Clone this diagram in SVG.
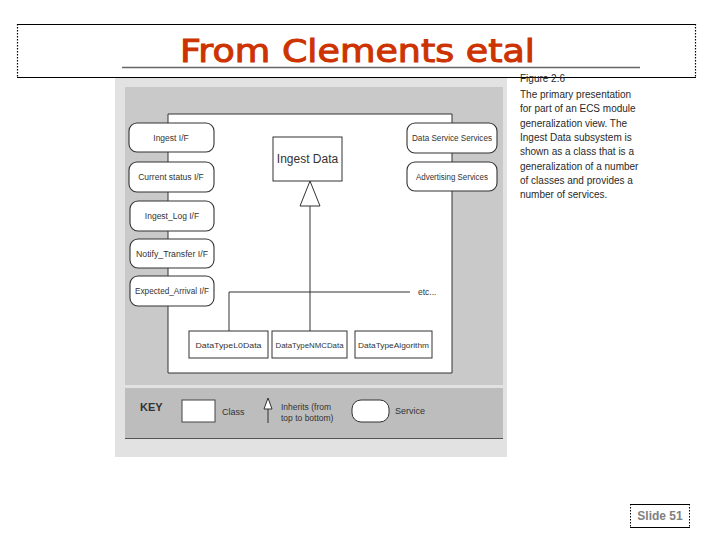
<svg xmlns="http://www.w3.org/2000/svg" width="720" height="540" viewBox="0 0 720 540">
<style>
.t{font-family:"Liberation Sans",Arial,sans-serif;fill:#333}
.svc{fill:#fff;stroke:#333;stroke-width:1.1}
.cls{fill:#fff;stroke:#333;stroke-width:1}
.ln{stroke:#333;stroke-width:1;fill:none}
.lab{font-size:8.5px;text-anchor:middle}
.dt{font-size:8px;text-anchor:middle}
.cap{font-size:10px;fill:#2a2a2a}
</style>
<rect width="720" height="540" fill="#fff"/>
<!-- scanned figure background -->
<rect x="115" y="78" width="392" height="379" fill="#e2e2e2"/>
<rect x="125" y="87" width="378" height="298" fill="#c9c9c9"/>
<rect x="125" y="388" width="378" height="50" fill="#bdbdbd"/>
<line x1="125" y1="438.5" x2="503" y2="438.5" stroke="#555" stroke-width="1.2"/>
<line x1="122" y1="67.5" x2="640" y2="67.5" stroke="#666" stroke-width="1.5"/>
<!-- inner white area -->
<path d="M168 373 L168 114 L452 114 L452 373 Z" fill="#fff" stroke="#333" stroke-width="1"/>
<!-- title -->
<g id="title">
<path d="M17 24.5 H696 M17 77.5 H696" stroke="#000" stroke-width="1.2"/>
<path d="M17.5 24 V78 M695.5 24 V78" stroke="#000" stroke-width="1.2" stroke-dasharray="1.5,1.5"/>
<text x="180" y="62" font-family="'DejaVu Sans',sans-serif" font-size="32" fill="#cc3300" stroke="#cc3300" stroke-width="1" textLength="355" lengthAdjust="spacingAndGlyphs">From Clements etal</text>
</g>
<!-- connectors -->
<g id="connectors">
<line class="ln" x1="310" y1="206" x2="310" y2="331"/>
<line class="ln" x1="229" y1="292" x2="410" y2="292"/>
<line class="ln" x1="229" y1="292" x2="229" y2="331"/>
<polygon points="310,181 300,206 320,206" fill="#fff" stroke="#333" stroke-width="1"/>
<text class="t" x="418" y="295" font-size="8.5">etc...</text>
</g>
<!-- services left -->
<g id="ingest-if"><rect class="svc" x="129" y="123" width="85" height="29" rx="8"/><text class="t lab" x="171" y="141">Ingest I/F</text></g>
<g id="current-status-if"><rect class="svc" x="129" y="162" width="85" height="30" rx="8"/><text class="t lab" x="171" y="180">Current status I/F</text></g>
<g id="ingest-log-if"><rect class="svc" x="130" y="201" width="84" height="30" rx="8"/><text class="t lab" x="172" y="219">Ingest_Log I/F</text></g>
<g id="notify-transfer-if"><rect class="svc" x="130" y="239" width="84" height="29" rx="8"/><text class="t lab" x="172" y="257" textLength="72" lengthAdjust="spacingAndGlyphs">Notify_Transfer I/F</text></g>
<g id="expected-arrival-if"><rect class="svc" x="130" y="276" width="84" height="30" rx="8"/><text class="t lab" x="172" y="294" textLength="74" lengthAdjust="spacingAndGlyphs">Expected_Arrival I/F</text></g>
<!-- services right -->
<g id="data-service-services"><rect class="svc" x="407" y="123" width="90" height="30" rx="8"/><text class="t lab" x="452" y="141" textLength="80" lengthAdjust="spacingAndGlyphs">Data Service Services</text></g>
<g id="advertising-services"><rect class="svc" x="407" y="162" width="90" height="29" rx="8"/><text class="t lab" x="452" y="180" textLength="72" lengthAdjust="spacingAndGlyphs">Advertising Services</text></g>
<!-- classes -->
<g id="ingest-data"><rect class="cls" x="273" y="137" width="69" height="44"/><text class="t" x="307.5" y="163" font-size="12" text-anchor="middle">Ingest Data</text></g>
<g id="datatype-l0data"><rect class="cls" x="189" y="331" width="79" height="27"/><text class="t dt" x="228.5" y="348" textLength="66" lengthAdjust="spacingAndGlyphs">DataTypeL0Data</text></g>
<g id="datatype-nmcdata"><rect class="cls" x="272" y="331" width="75" height="27"/><text class="t dt" x="309.5" y="348" textLength="68" lengthAdjust="spacingAndGlyphs">DataTypeNMCData</text></g>
<g id="datatype-algorithm"><rect class="cls" x="355" y="331" width="77" height="27"/><text class="t dt" x="393.5" y="348" textLength="71" lengthAdjust="spacingAndGlyphs">DataTypeAlgorithm</text></g>
<!-- key -->
<g id="key">
<text class="t" x="140" y="411" font-size="11" font-weight="bold">KEY</text>
<rect x="182" y="400" width="33" height="22" fill="#fff" stroke="#444" stroke-width="1"/>
<text class="t" x="222" y="415" font-size="9">Class</text>
<polygon points="268,398 264,409 272,409" fill="#fff" stroke="#333" stroke-width="1"/>
<line class="ln" x1="268" y1="409" x2="268" y2="423"/>
<text class="t" x="281" y="410" font-size="8.5">Inherits (from</text>
<text class="t" x="281" y="421" font-size="8.5">top to bottom)</text>
<rect x="352" y="400" width="37" height="22" rx="9" fill="#fff" stroke="#333" stroke-width="1"/>
<text class="t" x="395" y="414" font-size="9">Service</text>
</g>
<!-- caption -->
<g id="caption">
<text class="t cap" x="520" y="82">Figure 2.6</text>
<text class="t cap" x="520" y="98">The primary presentation</text>
<text class="t cap" x="520" y="112">for part of an ECS module</text>
<text class="t cap" x="520" y="127">generalization view. The</text>
<text class="t cap" x="520" y="141">Ingest Data subsystem is</text>
<text class="t cap" x="520" y="155">shown as a class that is a</text>
<text class="t cap" x="520" y="170">generalization of a number</text>
<text class="t cap" x="520" y="184">of classes and provides a</text>
<text class="t cap" x="520" y="198">number of services.</text>
</g>
<!-- slide number -->
<g id="slide-number">
<path d="M630 504.5 H690 M630 527.5 H690" stroke="#000" stroke-width="1"/>
<path d="M630.5 504 V528 M689.5 504 V528" stroke="#000" stroke-width="1" stroke-dasharray="1.5,1.5"/>
<text x="660" y="520" font-family="'Liberation Sans',Arial,sans-serif" font-size="12" font-weight="bold" fill="#808080" text-anchor="middle">Slide 51</text>
</g>
</svg>
